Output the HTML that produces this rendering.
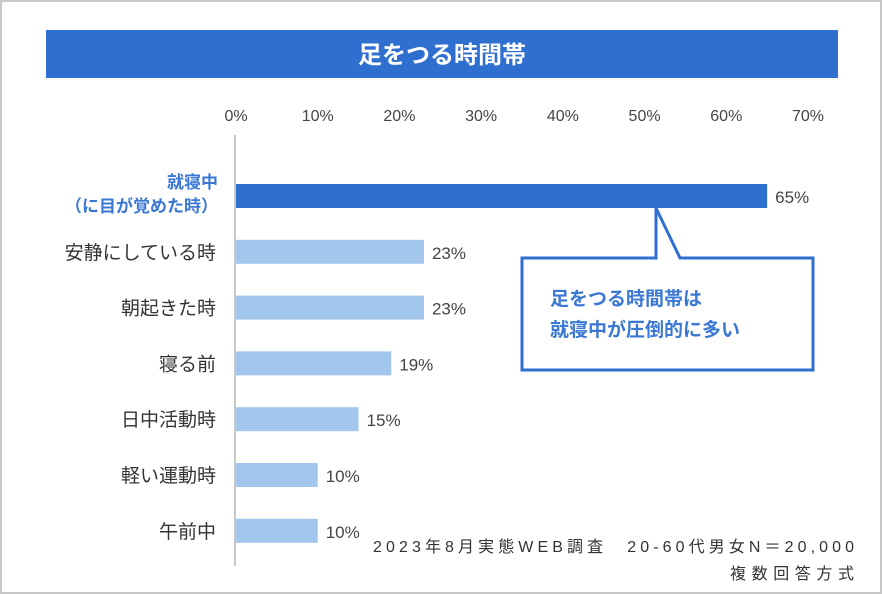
<!DOCTYPE html>
<html><head><meta charset="utf-8"><style>
body{margin:0;background:#fff;}
svg{display:block;font-family:"Liberation Sans","Noto Sans CJK JP",sans-serif;}
</style></head><body>
<svg id="chart" width="882" height="594" viewBox="0 0 882 594">
<rect x="1" y="1" width="880" height="592" fill="#fff" stroke="#c8c8c8" stroke-width="2"/>
<rect x="46" y="30" width="792" height="48" fill="#2f6fd0"/>
<text x="442" y="63" text-anchor="middle" font-size="24" font-weight="bold" fill="#fff">足をつる時間帯</text>
<line x1="235" y1="135" x2="235" y2="566" stroke="#c8c8c8" stroke-width="2"/>
<g id="ticks"></g>
<g id="bars"></g>
<g id="labels"></g>
<path d="M522,258 H656 V208 L680,258 H813 V370 H522 Z" fill="#fff" stroke="#2f6fd0" stroke-width="3" stroke-linejoin="miter"/>
<text x="550" y="305" font-size="19" font-weight="bold" fill="#3a78d4">足をつる時間帯は</text>
<text x="550" y="336" font-size="19" font-weight="bold" fill="#3a78d4">就寝中が圧倒的に多い</text>
<text x="373" y="552" font-size="16" fill="#333" textLength="481" lengthAdjust="spacing">2023年8月実態WEB調査　20-60代男女N＝20,000</text>
<text x="730" y="579" font-size="16" fill="#333" textLength="124" lengthAdjust="spacing">複数回答方式</text>
</svg>
<script>
const categories=["就寝中","安静にしている時","朝起きた時","寝る前","日中活動時","軽い運動時","午前中"];
const values=[65,23,23,19,15,10,10];
const tickLabels=["0%","10%","20%","30%","40%","50%","60%","70%"];
const tickVals=[0,10,20,30,40,50,60,70];
const NS="http://www.w3.org/2000/svg";
function x(v){return 236+v*(808-236)/70;}
function yc(i){return 196+i*55.8;}
function mk(tag,attrs,parent){const e=document.createElementNS(NS,tag);for(const k in attrs)e.setAttribute(k,attrs[k]);parent.appendChild(e);return e;}
const gt=document.getElementById("ticks"),gb=document.getElementById("bars"),gl=document.getElementById("labels");
tickVals.forEach((v,i)=>{
 const t=mk("text",{x:x(v),y:121,"text-anchor":"middle","font-size":"16",fill:"#444"},gt);
 t.textContent=tickLabels[i];
 
 
});
categories.forEach((c,i)=>{
 const r=mk("rect",{x:236,y:yc(i)-12,width:x(values[i])-236,height:24,fill:i===0?"#2f6fd0":"#a3c6ec"},gb);
 
 
 const v=mk("text",{x:x(values[i])+8,y:yc(i)+7,"font-size":"17",fill:"#444"},gl);
 v.textContent=values[i]+"%";
 
 
 if(i===0){
  const a=mk("text",{x:218,y:yc(i)-8,"text-anchor":"end","font-size":"17","font-weight":"bold",fill:"#3a78d4"},gl);
  a.textContent=c;
  
  
  const b=mk("text",{x:218,y:yc(i)+16,"text-anchor":"end","font-size":"17","font-weight":"bold",fill:"#3a78d4"},gl);
  b.textContent="（に目が覚めた時）";
  
  
 } else {
  const a=mk("text",{x:216,y:yc(i)+7,"text-anchor":"end","font-size":"19",fill:"#333"},gl);
  a.textContent=c;
  
  
 }
});
</script>
</body></html>
